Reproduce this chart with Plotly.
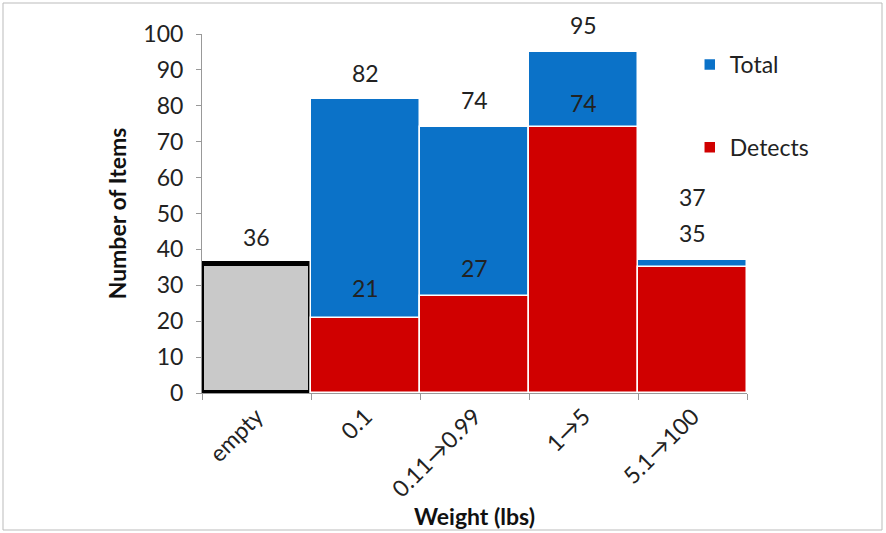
import plotly.graph_objects as go

categories = ["empty", "0.1", "0.11\u21920.99", "1\u21925", "5.1\u2192100"]
empty_value = [36, None, None, None, None]
total_values = [None, 82, 74, 95, 37]
detect_values = [None, 21, 27, 74, 35]
# label offsets (pixels) above bar tops
empty_label_shift = [27, 0, 0, 0, 0]
total_label_shift = [0, 26, 27, 27, 63]
detect_label_shift = [0, 30, 28, 24, 34]

L, R, T, B = 202, 139, 34, 140
W, H = 886, 533
pw, ph = W - L - R, H - T - B

font_family = "Lato, 'Open Sans', sans-serif"
FS = 23

fig = go.Figure()
fig.add_trace(go.Bar(x=categories, y=empty_value, name="empty", showlegend=False,
                     marker=dict(color="#c9c9c9", line=dict(color="#000000", width=5))))
fig.add_trace(go.Bar(x=categories, y=total_values, name="Total", legendgroup="a",
                     marker=dict(color="#0b72c8", line=dict(color="#ffffff", width=1.5))))
fig.add_trace(go.Bar(x=categories, y=detect_values, name="Detects", legendgroup="b",
                     marker=dict(color="#d00000", line=dict(color="#ffffff", width=1.5))))

annotations = []
for series, shifts in ((empty_value, empty_label_shift),
                       (total_values, total_label_shift),
                       (detect_values, detect_label_shift)):
    for i, (v, s) in enumerate(zip(series, shifts)):
        if v is not None:
            annotations.append(dict(x=i, y=v, xref="x", yref="y", text=str(v),
                                    showarrow=False, yshift=s,
                                    font=dict(size=FS, color="#222")))

fig.update_layout(
    width=W, height=H,
    margin=dict(l=L, r=R, t=T, b=B),
    barmode="overlay", bargap=0.0,
    plot_bgcolor="white", paper_bgcolor="white",
    font=dict(family=font_family, size=FS, color="#222"),
    annotations=annotations,
    legend=dict(x=0.895, y=0.975, xanchor="left", yanchor="top",
                font=dict(size=FS, color="#222"), tracegroupgap=50,
                traceorder="grouped", bgcolor="rgba(0,0,0,0)"),
    shapes=[dict(type="rect", xref="paper", yref="paper",
                 x0=(3 - L) / pw, x1=(882 - L) / pw,
                 y0=(H - B - 530) / ph, y1=(H - B - 3) / ph,
                 line=dict(color="#bbbbbb", width=1), layer="below")],
)
fig.update_yaxes(range=[0, 100], dtick=10, showgrid=False, showline=True,
                 linecolor="#999", linewidth=1, ticks="outside", tickcolor="#999",
                 ticklen=5, ticklabelstandoff=8, tickfont=dict(size=FS, color="#222"),
                 title=dict(text="<b>Number of Items</b>", font=dict(size=FS, color="#111"),
                            standoff=10), zeroline=False)
fig.update_xaxes(type="category", showgrid=False, showline=True, linecolor="#999", linewidth=1,
                 ticks="outside", tickson="boundaries", tickcolor="#999", ticklen=6,
                 tickangle=-45, tickfont=dict(size=FS, color="#222"),
                 title=dict(text="<b>Weight (lbs)</b>", font=dict(size=FS, color="#111"),
                            standoff=0))

fig.write_html("out.html", config={"displayModeBar": False},
               post_script="document.body.style.margin='0';")
